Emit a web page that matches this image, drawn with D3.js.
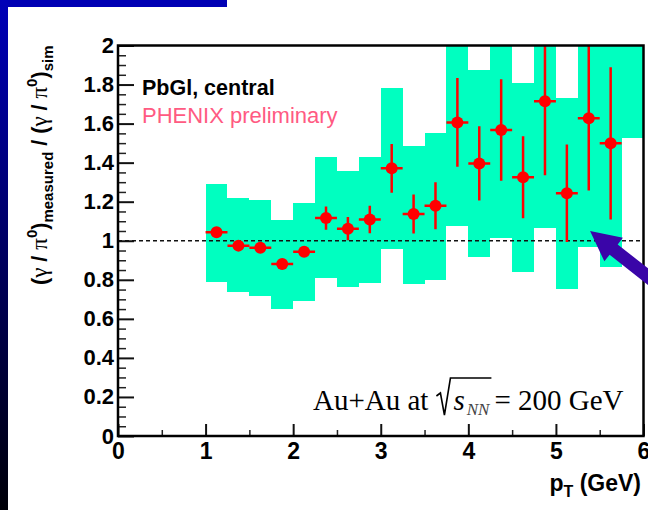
<!DOCTYPE html>
<html>
<head>
<meta charset="utf-8">
<script src="https://cdn.jsdelivr.net/npm/d3@7"></script>
<style>
body { margin: 0; background: #fff; }
text { font-family: "Liberation Sans", Arial, sans-serif; }
</style>
</head>
<body>
<svg id="chart" width="648" height="510"></svg>
<script>
// systematic band, one box per 0.25 GeV bin (lower edge of bin)
const binLo  = [1.0, 1.25, 1.5, 1.75, 2.0, 2.25, 2.5, 2.75, 3.0, 3.25, 3.5, 3.75, 4.0, 4.25, 4.5, 4.75, 5.0, 5.25, 5.5, 5.75];
const binWidth = 0.25;
const bandLow  = [0.787, 0.736, 0.717, 0.649, 0.691, 0.807, 0.761, 0.785, 0.957, 0.780, 0.800, 1.073, 0.917, 1.012, 0.840, 1.063, 0.755, 0.967, 0.868, 1.524];
const bandHigh = [1.290, 1.217, 1.208, 1.106, 1.195, 1.427, 1.359, 1.430, 1.780, 1.485, 1.553, 2.100, 1.874, 2.100, 1.806, 2.100, 1.731, 2.100, 2.100, 2.100];

// measured points with stat errors
const ptX   = [1.125, 1.375, 1.625, 1.875, 2.125, 2.375, 2.625, 2.875, 3.125, 3.375, 3.625, 3.875, 4.125, 4.375, 4.625, 4.875, 5.125, 5.375, 5.625];
const ptY   = [1.043, 0.975, 0.964, 0.881, 0.944, 1.116, 1.062, 1.109, 1.371, 1.137, 1.179, 1.606, 1.396, 1.567, 1.325, 1.715, 1.243, 1.627, 1.499];
const ptErr = [0.015, 0.015, 0.020, 0.015, 0.020, 0.060, 0.060, 0.070, 0.125, 0.100, 0.120, 0.227, 0.190, 0.260, 0.210, 0.380, 0.250, 0.370, 0.390];
const ptXErr = 0.125;

const xTicks = [0, 1, 2, 3, 4, 5, 6];
const xTickLabels = ["0", "1", "2", "3", "4", "5", "6"];
const yTicks = [0, 0.2, 0.4, 0.6, 0.8, 1, 1.2, 1.4, 1.6, 1.8, 2];
const yTickLabels = ["0", "0.2", "0.4", "0.6", "0.8", "1", "1.2", "1.4", "1.6", "1.8", "2"];

const refLine = 1;
const arrowTip = [5.39, 1.05];

const svg = d3.select("#chart");

// slide decorations
let grad = svg.append("defs").append("linearGradient")
    .attr("id", "sideGrad").attr("x1", 0).attr("y1", 0).attr("x2", 0).attr("y2", 1);
grad.append("stop").attr("offset", "0%").attr("stop-color", "#0000b8");
grad.append("stop").attr("offset", "100%").attr("stop-color", "#000008");
svg.append("rect").attr("x", 0).attr("y", 0).attr("width", 227).attr("height", 7).attr("fill", "#0000b4");
svg.append("rect").attr("x", 0).attr("y", 0).attr("width", 8).attr("height", 510).attr("fill", "url(#sideGrad)");

const x = d3.scaleLinear().domain([0, 6]).range([118, 643.5]);
const y = d3.scaleLinear().domain([0, 2]).range([436, 45.5]);

svg.select("defs").append("clipPath").attr("id", "plotClip")
  .append("rect")
    .attr("x", x(0)).attr("y", y(2))
    .attr("width", x(6) - x(0)).attr("height", y(0) - y(2));

let plot = svg.append("g").attr("clip-path", "url(#plotClip)");

// green band
plot.selectAll("rect.band")
  .data(binLo)
  .enter().append("rect")
    .attr("class", "band")
    .attr("x", d => x(d))
    .attr("width", d => x(d + binWidth) - x(d))
    .attr("y", (d, i) => y(bandHigh[i]))
    .attr("height", (d, i) => y(bandLow[i]) - y(bandHigh[i]))
    .attr("fill", "#00ffc0")
    .attr("shape-rendering", "crispEdges");

// dashed line at 1
plot.append("line")
    .attr("x1", x(0)).attr("x2", x(6))
    .attr("y1", y(refLine)).attr("y2", y(refLine))
    .attr("stroke", "#111")
    .attr("stroke-width", 1.5)
    .attr("stroke-dasharray", "4,3");

// error bars
plot.selectAll("line.ey")
  .data(ptX)
  .enter().append("line")
    .attr("class", "ey")
    .attr("x1", d => x(d)).attr("x2", d => x(d))
    .attr("y1", (d, i) => y(ptY[i] - ptErr[i]))
    .attr("y2", (d, i) => y(ptY[i] + ptErr[i]))
    .attr("stroke", "#ff0000").attr("stroke-width", 2.5);

plot.selectAll("line.ex")
  .data(ptX)
  .enter().append("line")
    .attr("class", "ex")
    .attr("x1", d => x(d - ptXErr)).attr("x2", d => x(d + ptXErr))
    .attr("y1", (d, i) => y(ptY[i]))
    .attr("y2", (d, i) => y(ptY[i]))
    .attr("stroke", "#ff0000").attr("stroke-width", 2.5);

plot.selectAll("circle.pt")
  .data(ptX)
  .enter().append("circle")
    .attr("class", "pt")
    .attr("cx", d => x(d))
    .attr("cy", (d, i) => y(ptY[i]))
    .attr("r", 6)
    .attr("fill", "#ff0000");

// axes, ticks inside the frame like ROOT
let minorY = d3.range(0, 2.0001, 0.05).filter(v => Math.abs(v * 5 - Math.round(v * 5)) > 1e-6);
let minorX = d3.range(0.5, 6, 1);

let gy = svg.append("g").attr("transform", "translate(" + x(0) + ",0)")
    .call(d3.axisLeft(y).tickValues(yTicks).tickSize(-16).tickPadding(4)
        .tickFormat((d, i) => yTickLabels[i]));
svg.append("g").attr("transform", "translate(" + x(0) + ",0)")
    .call(d3.axisLeft(y).tickValues(minorY).tickSize(-8).tickFormat(""))
    .call(g => g.select(".domain").remove())
    .selectAll("line").attr("stroke", "#222").attr("stroke-width", 1.5);

let gx = svg.append("g").attr("transform", "translate(0," + y(0) + ")")
    .call(d3.axisBottom(x).tickValues(xTicks).tickSize(-12).tickPadding(7)
        .tickFormat((d, i) => xTickLabels[i]));
svg.append("g").attr("transform", "translate(0," + y(0) + ")")
    .call(d3.axisBottom(x).tickValues(minorX).tickSize(-6).tickFormat(""))
    .call(g => g.select(".domain").remove())
    .selectAll("line").attr("stroke", "#222").attr("stroke-width", 1.5);

[gy, gx].forEach(g => {
    g.select(".domain").remove();
    g.selectAll("line").attr("stroke", "#111").attr("stroke-width", 2);
    g.selectAll("text")
        .attr("fill", "#000")
        .style("font-family", "'Liberation Sans', Arial, sans-serif")
        .style("font-weight", "bold");
});
gy.selectAll("text").style("font-size", "22px");
gx.selectAll("text").style("font-size", "23px");

// frame
svg.append("rect")
    .attr("x", x(0)).attr("y", y(2))
    .attr("width", x(6) - x(0)).attr("height", y(0) - y(2))
    .attr("fill", "none").attr("stroke", "#000").attr("stroke-width", 2.5);

// y axis title
let yt = svg.append("text")
    .attr("transform", "translate(47," + y(2) + ") rotate(-90)")
    .attr("text-anchor", "end")
    .style("font-size", "21.5px").style("font-weight", "bold");
let greek = "'Liberation Serif', 'DejaVu Serif', serif";
yt.append("tspan").text("(");
yt.append("tspan").style("font-family", greek).style("font-weight", "normal").style("font-size", "23px").text("γ");
yt.append("tspan").text(" / ");
yt.append("tspan").style("font-family", greek).style("font-weight", "normal").style("font-size", "23px").text("π");
yt.append("tspan").attr("dy", -10).style("font-size", "15px").text("0");
yt.append("tspan").attr("dy", 10).text(")");
yt.append("tspan").attr("dy", 6).style("font-size", "15px").text("measured");
yt.append("tspan").attr("dy", -6).text(" / (");
yt.append("tspan").style("font-family", greek).style("font-weight", "normal").style("font-size", "23px").text("γ");
yt.append("tspan").text(" / ");
yt.append("tspan").style("font-family", greek).style("font-weight", "normal").style("font-size", "23px").text("π");
yt.append("tspan").attr("dy", -10).style("font-size", "15px").text("0");
yt.append("tspan").attr("dy", 10).text(")");
yt.append("tspan").attr("dy", 6).style("font-size", "15px").text("sim");

// x axis title
let xt = svg.append("text")
    .attr("x", 641).attr("y", 491)
    .attr("text-anchor", "end")
    .style("font-size", "23px").style("font-weight", "bold");
xt.append("tspan").text("p");
xt.append("tspan").attr("dy", 6).style("font-size", "16px").text("T");
xt.append("tspan").attr("dy", -6).text(" (GeV)");

// labels
svg.append("text").attr("x", 142).attr("y", 95)
    .style("font-size", "21.5px").style("font-weight", "bold").attr("fill", "#000")
    .text("PbGl, central");
svg.append("text").attr("x", 142).attr("y", 123)
    .style("font-size", "22px").attr("fill", "#ff5a82")
    .text("PHENIX preliminary");

// Au+Au at sqrt(s_NN) = 200 GeV
let serif = "'Liberation Serif', 'Times New Roman', serif";
let bx = 313, by = 410;
let t1 = svg.append("text").attr("x", bx).attr("y", by)
    .style("font-family", serif).style("font-size", "29px").text("Au+Au at");
let cx = bx + t1.node().getComputedTextLength() + 8;
let ts = svg.append("text").attr("x", cx + 17).attr("y", by)
    .style("font-family", serif).style("font-size", "29px").style("font-style", "italic").text("s");
let nx = cx + 17 + ts.node().getComputedTextLength() + 2;
let tn = svg.append("text").attr("x", nx).attr("y", by + 5)
    .style("font-family", serif).style("font-size", "17px").style("font-style", "italic")
    .attr("fill", "#444").text("NN");
let rEnd = nx + tn.node().getComputedTextLength() + 2;
svg.append("path")
    .attr("d", "M" + cx + "," + (by - 14) + " L" + (cx + 4) + "," + (by - 17) +
               " L" + (cx + 8) + "," + (by + 5) + " L" + (cx + 14) + "," + (by - 32) +
               " L" + rEnd + "," + (by - 32))
    .attr("fill", "none").attr("stroke", "#000").attr("stroke-width", 1.6)
    .attr("stroke-linejoin", "miter");
svg.append("text").attr("x", rEnd + 3).attr("y", by)
    .style("font-family", serif).style("font-size", "29px")
    .attr("xml:space", "preserve")
    .text("= 200 GeV");

// arrow annotation
let tip = [x(arrowTip[0]), y(arrowTip[1])];
let dir = [0.786, 0.619], nrm = [-0.619, 0.786];
let base = [tip[0] + 30 * dir[0], tip[1] + 30 * dir[1]];
let end = [base[0] + 70 * dir[0], base[1] + 70 * dir[1]];
let pt = (p, k, w) => [p[0] + k * nrm[0] * w, p[1] + k * nrm[1] * w];
let arrowPts = [tip, pt(base, 1, 15), pt(base, 1, 6.5), pt(end, 1, 6.5),
                pt(end, -1, 6.5), pt(base, -1, 6.5), pt(base, -1, 15)];
svg.append("path")
    .attr("d", d3.line()(arrowPts) + "Z")
    .attr("fill", "#3a05a8");
</script>
</body>
</html>
